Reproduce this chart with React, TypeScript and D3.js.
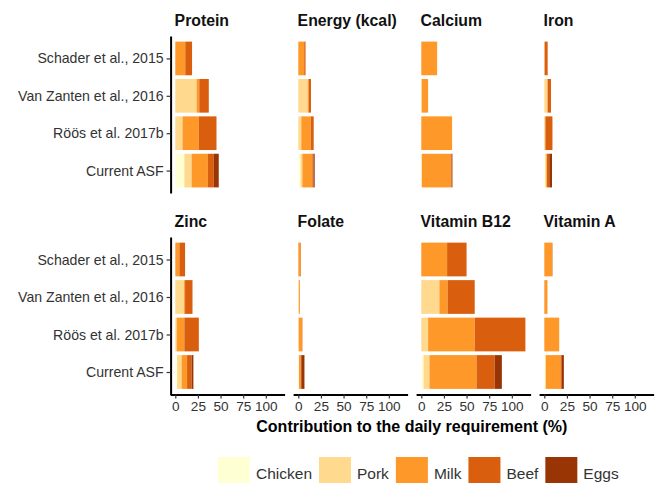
import { useEffect, useRef } from 'react';
import * as d3 from 'd3';

// ── data ─────────────────────────────────────────────
const studies = ['Schader et al., 2015', 'Van Zanten et al., 2016', 'Röös et al. 2017b', 'Current ASF'];
const foods = ['Chicken', 'Pork', 'Milk', 'Beef', 'Eggs'];
const nutrients = ['Protein', 'Energy (kcal)', 'Calcium', 'Iron', 'Zinc', 'Folate', 'Vitamin B12', 'Vitamin A'];
const xTicks = [0, 25, 50, 75, 100];

// each row: one study, values per food (Chicken, Pork, Milk, Beef, Eggs), % of daily requirement
const protein = [[0, 0, 11, 7.5, 0], [0, 23.5, 3, 10.5, 0], [0, 8, 18, 19.5, 0], [10, 8, 18, 6.5, 5.5]];
const energy = [[0, 0, 6.5, 1.5, 0], [0, 10.5, 1, 2.5, 0], [0, 3.3, 10.4, 3.3, 0], [2.5, 2, 11, 1.3, 1.3]];
const calcium = [[0, 0, 17.5, 0, 0], [0, 0.5, 7, 0, 0], [0, 0, 34, 0, 0], [0.3, 0.3, 32.5, 0.3, 1]];
const iron = [[0, 0, 0.5, 3.2, 0], [0, 3.4, 0.3, 3.7, 0], [0, 0.5, 0.8, 7.7, 0], [1, 1.2, 0.8, 2.5, 3]];
const zinc = [[0, 0, 4.5, 6.3, 0], [0, 9.7, 1.1, 8.2, 0], [0, 1.5, 8.5, 16, 0], [2, 5, 6, 5, 2]];
const folate = [[0, 0, 2.5, 0.5, 0], [0, 0.8, 1, 0, 0], [0, 0.5, 3.8, 0.3, 0], [0.5, 0.3, 2, 0.5, 3.5]];
const vitB12 = [[0, 0, 28.5, 21.5, 0], [0, 20, 9, 30, 0], [0, 7.5, 51.5, 56, 0], [2.5, 6.5, 52, 20, 8]];
const vitA = [[0, 0, 8.5, 0.5, 0], [0, 0, 3.5, 0, 0], [0, 0, 16.5, 0, 0], [1.5, 0, 16.4, 1.5, 2.2]];

const panelData = [protein, energy, calcium, iron, zinc, folate, vitB12, vitA];

const colors = ['#ffffd4', '#fed98e', '#fe9929', '#d95f0e', '#993404'];
const font = "'Liberation Sans', Arial, sans-serif";

export default function App() {
  const svgRef = useRef<SVGSVGElement>(null);

  useEffect(() => {
    const svg = d3.select(svgRef.current);
    svg.selectAll('*').remove();

    const W = 656, H = 483;
    svg.attr('width', W).attr('height', H);

    const left0 = 170.1, pw = 114.5, step = 123;
    const rows = [{ top: 36, bottom: 193 }, { top: 237, bottom: 394.5 }];

    // shared x scale (ggplot style expansion)
    const maxTotal = d3.max(panelData.flat(), r => d3.sum(r)) as number;
    const pad = maxTotal * 0.05;
    const color = d3.scaleOrdinal<string, string>().domain(foods).range(colors);

    panelData.forEach((rowsData, i) => {
      const col = i % 4, row = Math.floor(i / 4);
      const x0 = left0 + col * step;
      const { top, bottom } = rows[row];

      const x = d3.scaleLinear().domain([-pad, maxTotal + pad]).range([x0, x0 + pw]);
      const y = d3.scalePoint<string>().domain(studies).range([top, bottom]).padding(0.6);
      const bh = y.step() * 0.9;

      const g = svg.append('g');

      // stacked bars
      studies.forEach((s, si) => {
        let acc = 0;
        rowsData[si].forEach((v, fi) => {
          if (v <= 0) return;
          g.append('rect')
            .attr('x', x(acc)).attr('width', x(acc + v) - x(acc))
            .attr('y', (y(s) as number) - bh / 2).attr('height', bh)
            .attr('fill', colors[fi]);
          acc += v;
        });
      });

      // strip title
      svg.append('text').attr('x', x0 + 4.5).attr('y', top - 10)
        .attr('font-family', font).attr('font-size', 15.8).attr('font-weight', 'bold')
        .attr('fill', '#111').text(nutrients[i]);

      // y axis, first column only
      if (col === 0) {
        g.append('g').attr('transform', `translate(${x0 + 0.5},0)`)
          .call(d3.axisLeft(y).tickSize(4).tickPadding(3).tickSizeOuter(0))
          .call(ax => {
            ax.select('.domain').attr('stroke', '#000').attr('stroke-width', 2);
            ax.selectAll('.tick line').attr('stroke', '#333').attr('stroke-width', 1.2);
            ax.selectAll('text').attr('fill', '#333').attr('font-family', font).attr('font-size', 14.1);
          });
      }

      // x axis, bottom row only
      if (row === 1) {
        g.append('g').attr('transform', `translate(0,${bottom})`)
          .call(d3.axisBottom(x).tickValues(xTicks).tickSize(4).tickPadding(3).tickSizeOuter(0))
          .call(ax => {
            ax.select('.domain').attr('stroke', '#000').attr('stroke-width', 2);
            ax.selectAll('.tick line').attr('stroke', '#333').attr('stroke-width', 1.2);
            ax.selectAll('text').attr('fill', '#333').attr('font-family', font).attr('font-size', 13.6);
          });
      }
    });

    // x axis title
    svg.append('text').attr('x', left0 + (3 * step + pw) / 2).attr('y', 432)
      .attr('text-anchor', 'middle').attr('font-family', font).attr('font-size', 16)
      .attr('font-weight', 'bold').attr('fill', '#000')
      .text('Contribution to the daily requirement (%)');

    // legend
    const lg = svg.append('g');
    let lx = 218;
    foods.forEach(f => {
      lg.append('rect').attr('x', lx).attr('y', 457).attr('width', 32).attr('height', 32)
        .attr('fill', color(f));
      const t = lg.append('text').attr('x', lx + 38).attr('y', 479)
        .attr('font-family', font).attr('font-size', 15.5).attr('fill', '#333').text(f);
      const tw = (t.node() as SVGTextElement).getComputedTextLength();
      lx += 38 + tw + 7;
    });
  }, []);

  return (
    <svg ref={svgRef} style={{ display: 'block', position: 'absolute', left: 0, top: 0, background: '#fff' }} />
  );
}
